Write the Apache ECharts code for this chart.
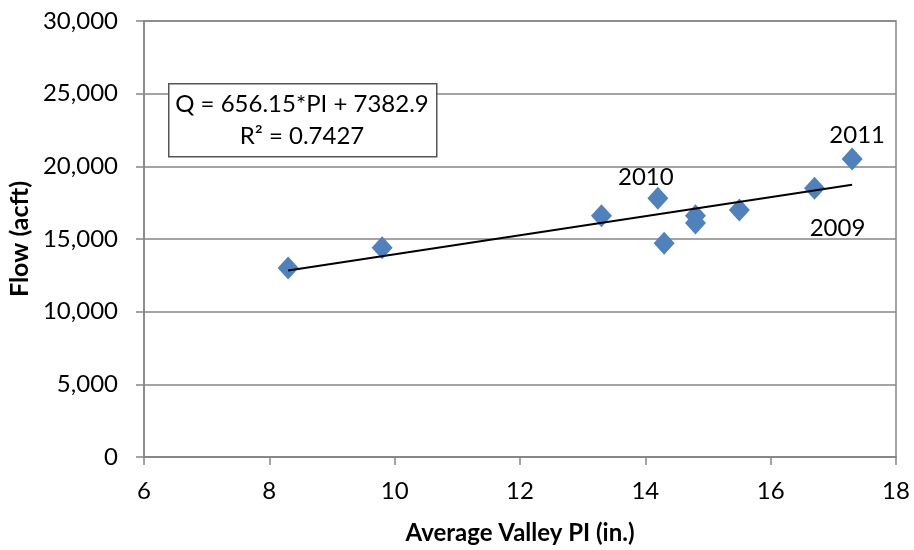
<!DOCTYPE html>
<html>
<head>
<meta charset="utf-8">
<script src="https://cdn.jsdelivr.net/npm/echarts@6/dist/echarts.min.js"></script>
<style>
  html, body { margin: 0; padding: 0; background: #fff; }
  #chart { width: 914px; height: 550px; }
</style>
</head>
<body>
<div id="chart"></div>
<script>
// Average valley precipitation index (in.) vs. annual flow (acft)
const valleyPI = [8.3, 9.8, 13.3, 14.2, 14.3, 14.8, 14.8, 15.5, 16.7, 17.3];
const flowAcft = [13000, 14400, 16600, 17800, 14700, 16600, 16100, 17000, 18500, 20500];
const yearLabels = ['', '', '', '2010', '', '', '', '', '2009', '2011'];

// Linear fit shown in the equation box
const slope = 656.15;
const intercept = 7382.9;
const rSquared = 0.7427;

const FONT = 'Lato, "Open Sans", sans-serif';

// label placement per tagged year
const labelOffsets = {
  '2010': [-12, 7],
  '2011': [5, 5],
  '2009': [23, 69]
};

const points = valleyPI.map((x, i) => {
  const item = { value: [x, flowAcft[i]] };
  const yr = yearLabels[i];
  if (yr) {
    item.label = {
      show: true,
      formatter: yr,
      position: 'top',
      offset: labelOffsets[yr],
      fontFamily: FONT,
      fontSize: 24,
      color: '#000',
      opacity: 1
    };
  }
  return item;
});

const xMin = Math.min(...valleyPI);
const xMax = Math.max(...valleyPI);
const trend = [
  [xMin, slope * xMin + intercept],
  [xMax, slope * xMax + intercept]
];

const chart = echarts.init(document.getElementById('chart'));
chart.setOption({
  animation: false,
  grid: {
    left: 144, right: 18, top: 21, bottom: 93,
    containLabel: false,
    outerBoundsMode: 'none',
    show: true, borderColor: '#868686', borderWidth: 1.5
  },
  xAxis: {
    type: 'value', min: 6, max: 18, interval: 2,
    name: 'Average Valley PI (in.)',
    nameLocation: 'middle', nameGap: 64,
    nameTextStyle: { fontFamily: FONT, fontSize: 24, fontWeight: 'bold', color: '#000' },
    axisLine: { show: true, lineStyle: { color: '#868686', width: 1.5 } },
    axisTick: { show: true, length: 8, lineStyle: { color: '#868686', width: 1.5 } },
    axisLabel: { fontFamily: FONT, fontSize: 24, color: '#000', margin: 22 },
    splitLine: { show: false }
  },
  yAxis: {
    type: 'value', min: 0, max: 30000, interval: 5000,
    name: 'Flow (acft)',
    nameLocation: 'middle', nameGap: 110, nameRotate: 90,
    nameTextStyle: { fontFamily: FONT, fontSize: 25, fontWeight: 'bold', color: '#000' },
    axisLine: { show: true, lineStyle: { color: '#868686', width: 1.5 } },
    axisTick: { show: true, length: 8, lineStyle: { color: '#868686', width: 1.5 } },
    axisLabel: {
      fontFamily: FONT, fontSize: 24, color: '#000', margin: 26,
      formatter: v => v.toLocaleString('en-US')
    },
    splitLine: { show: true, lineStyle: { color: '#868686', width: 1.5 } }
  },
  series: [
    {
      type: 'line',
      data: trend,
      showSymbol: false,
      symbol: 'none',
      lineStyle: { color: '#000', width: 2 },
      silent: true,
      z: 3
    },
    {
      type: 'scatter',
      data: points,
      symbol: 'diamond',
      symbolSize: [21, 23],
      itemStyle: { color: '#4f81bd', opacity: 1 },
      z: 2
    }
  ],
  graphic: [
    {
      type: 'rect',
      left: 168, top: 83,
      shape: { width: 268, height: 73 },
      style: { fill: '#fff', stroke: '#555', lineWidth: 1.5 },
      z: 10
    },
    {
      type: 'text',
      x: 302, y: 104,
      style: {
        text: 'Q = ' + slope + '*PI + ' + intercept,
        fontFamily: FONT, fontSize: 24, fill: '#000',
        align: 'center', verticalAlign: 'middle'
      },
      z: 11
    },
    {
      type: 'text',
      x: 302, y: 136,
      style: {
        text: 'R² = ' + rSquared,
        fontFamily: FONT, fontSize: 24, fill: '#000',
        align: 'center', verticalAlign: 'middle'
      },
      z: 11
    }
  ]
});
</script>
</body>
</html>
